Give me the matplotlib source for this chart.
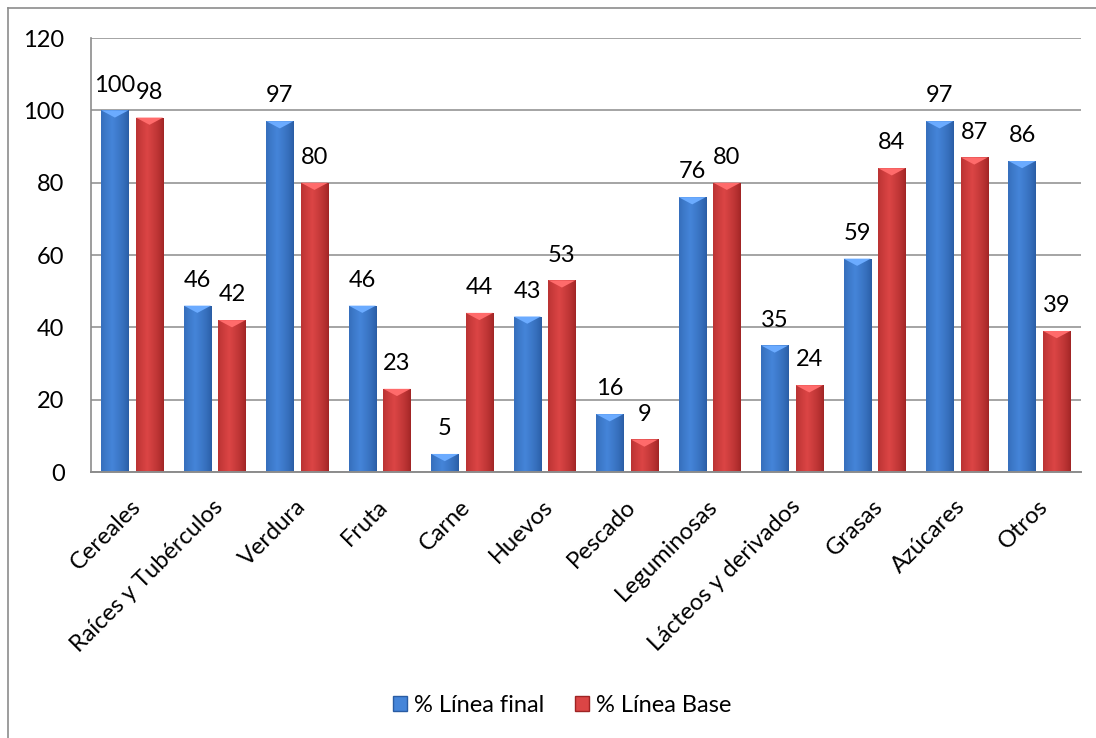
import numpy as np
import matplotlib
matplotlib.use('Agg')
import matplotlib.pyplot as plt
from matplotlib.patches import Rectangle, Polygon
from matplotlib.lines import Line2D

plt.rcParams['font.family'] = ['Lato', 'DejaVu Sans']

# Data
categories = ['Cereales', 'Raíces y Tubérculos', 'Verdura', 'Fruta', 'Carne', 'Huevos',
              'Pescado', 'Leguminosas', 'Lácteos y derivados', 'Grasas', 'Azúcares', 'Otros']
linea_final = [100, 46, 97, 46, 5, 43, 16, 76, 35, 59, 97, 86]
linea_base = [98, 42, 80, 23, 44, 53, 9, 80, 24, 84, 87, 39]
series_names = ['% Línea final', '% Línea Base']

blue_dark = np.array([0.16, 0.36, 0.64])
blue_light = np.array([0.27, 0.52, 0.85])
red_dark = np.array([0.62, 0.14, 0.14])
red_light = np.array([0.86, 0.27, 0.27])

fig = plt.figure(figsize=(10.96, 7.38), dpi=100)
ax = fig.add_axes([0.083, 0.3604, 0.903, 0.5881])

# outer chart border (only top and left visible in the crop)
fig.add_artist(Line2D([8 / 1096, 1], [1 - 8 / 738, 1 - 8 / 738], color='#8c8c8c', lw=1.2))
fig.add_artist(Line2D([8 / 1096, 8 / 1096], [0, 1 - 8 / 738], color='#8c8c8c', lw=1.2))


def gradient_bar(ax, x0, w, h, dark, light):
    # horizontal cylinder-like shading
    t = np.linspace(0, 1, 64)
    shade = 1 - np.abs(t - 0.4) / 0.6
    shade = np.clip(shade, 0, 1) ** 0.7
    rgb = dark[None, :] + (light - dark)[None, :] * shade[:, None]
    img = rgb[None, :, :]
    rect = Rectangle((x0, 0), w, h, facecolor='none', edgecolor='none')
    ax.add_patch(rect)
    im = ax.imshow(img, extent=[x0, x0 + w, 0, h], aspect='auto', zorder=2,
                   interpolation='bilinear')
    im.set_clip_path(rect)
    # light bevel at the top
    d = min(2.0, h * 0.5)
    bevel = Polygon([[x0, h], [x0 + w, h], [x0 + w * 0.5, h - d]], closed=True,
                    facecolor=np.clip(light + 0.15, 0, 1), edgecolor='none', zorder=3)
    ax.add_patch(bevel)


x = np.arange(len(categories))
w = 0.33
off = 0.21
for i in range(len(categories)):
    gradient_bar(ax, x[i] - off - w / 2, w, linea_final[i], blue_dark, blue_light)
    gradient_bar(ax, x[i] + off - w / 2, w, linea_base[i], red_dark, red_light)
    ax.text(x[i] - off, linea_final[i] + 7.0, str(linea_final[i]), ha='center', va='center',
            fontsize=17, color='black', zorder=4)
    ax.text(x[i] + off, linea_base[i] + 7.0, str(linea_base[i]), ha='center', va='center',
            fontsize=17, color='black', zorder=4)

ax.set_xlim(-0.5, len(categories) - 0.5)
ax.set_ylim(0, 120)
ax.set_yticks(range(0, 121, 20))
ax.yaxis.grid(True, color='#8c8c8c', lw=1.1)
ax.set_axisbelow(True)
ax.tick_params(axis='y', length=0, pad=19, labelsize=17)
ax.tick_params(axis='x', length=0)
ax.set_xticks(x)
ax.set_xticklabels([])
for i, c in enumerate(categories):
    ax.annotate(c, xy=(x[i], 0), xytext=(3.5, -22.5), textcoords='offset points',
                xycoords='data', rotation=45, rotation_mode='anchor', ha='right', va='center',
                fontsize=17, annotation_clip=False)

for s in ['top', 'right']:
    ax.spines[s].set_visible(False)
ax.spines['left'].set_color('#8c8c8c')
ax.spines['bottom'].set_color('#8c8c8c')
ax.spines['left'].set_linewidth(1.2)
ax.spines['bottom'].set_linewidth(1.4)

handles = [Rectangle((0, 0), 1, 1, facecolor=blue_light, edgecolor=blue_dark),
           Rectangle((0, 0), 1, 1, facecolor=red_light, edgecolor=red_dark)]
fig.legend(handles, series_names, loc='center', bbox_to_anchor=(0.513, 1 - 705 / 738),
           ncol=2, frameon=False, fontsize=17, handlelength=0.58, handleheight=0.58,
           handletextpad=0.3, columnspacing=1.3)

fig.savefig('out.png', dpi=100)
